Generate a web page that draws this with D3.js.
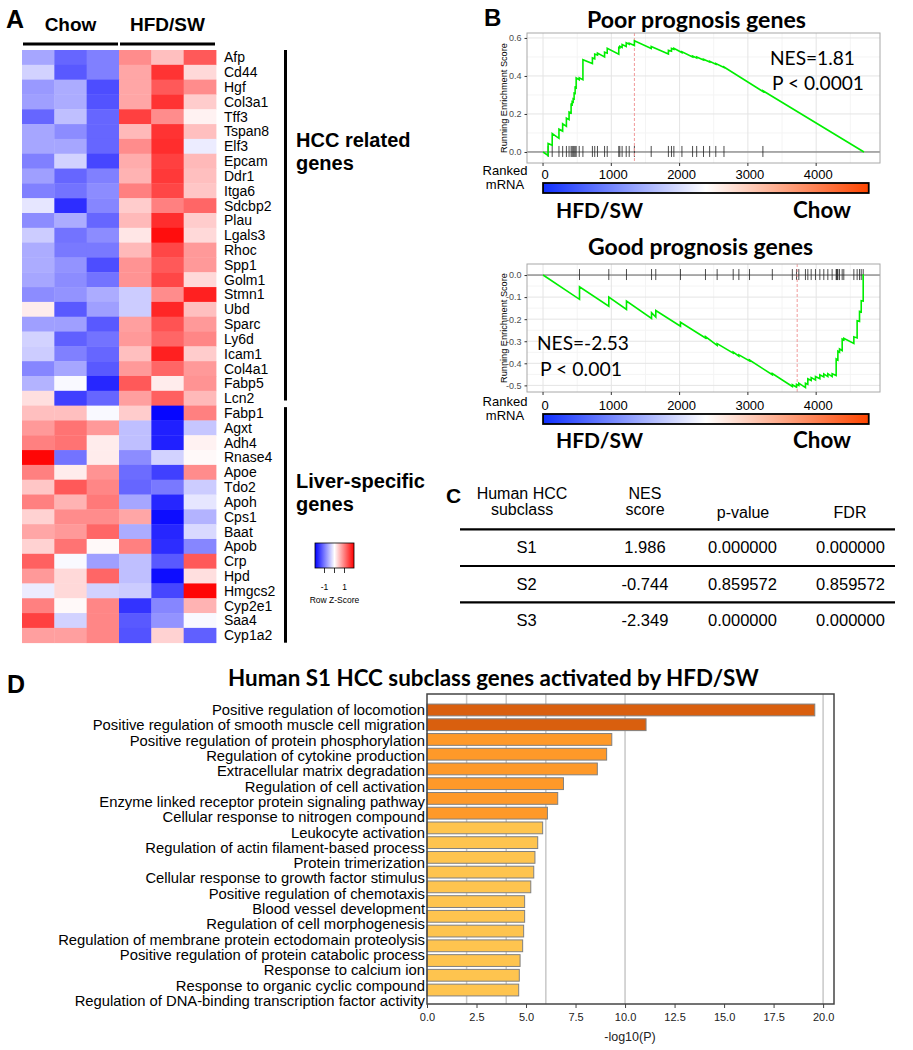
<!DOCTYPE html>
<html><head><meta charset="utf-8">
<script src="https://cdn.jsdelivr.net/npm/d3@7/dist/d3.min.js"></script>
<style>html,body{margin:0;padding:0;background:#fff;}svg{display:block}</style>
</head><body>
<svg id="fig" width="913" height="1050" xmlns="http://www.w3.org/2000/svg"></svg>
<script>
// ================= DATA =================
// Panel A – heatmap
const samples = ["Chow 1","Chow 2","Chow 3","HFD/SW 1","HFD/SW 2","HFD/SW 3"];
const groupNames = ["Chow","HFD/SW"];
const hccGenes = ["Afp","Cd44","Hgf","Col3a1","Tff3","Tspan8","Elf3","Epcam","Ddr1","Itga6","Sdcbp2","Plau","Lgals3","Rhoc","Spp1","Golm1","Stmn1","Ubd","Sparc","Ly6d","Icam1","Col4a1","Fabp5","Lcn2"];
const liverGenes = ["Fabp1","Agxt","Adh4","Rnase4","Apoe","Tdo2","Apoh","Cps1","Baat","Apob","Crp","Hpd","Hmgcs2","Cyp2e1","Saa4","Cyp1a2"];
const hccZ = [
  [-0.7,-1.2,-1.0,0.9,0.5,1.3],
  [-0.35,-1.3,-1.0,0.7,1.6,0.3],
  [-0.8,-0.65,-1.4,0.7,1.3,0.9],
  [-0.75,-0.65,-1.35,0.7,1.6,0.4],
  [-1.2,-0.5,-1.2,1.5,0.9,0.1],
  [-0.7,-0.9,-1.2,0.55,1.6,0.5],
  [-0.7,-0.7,-1.2,0.9,1.65,-0.15],
  [-1.0,-0.35,-1.45,0.65,1.5,0.55],
  [-0.75,-1.2,-1.0,0.6,1.55,0.5],
  [-1.0,-1.1,-0.9,1.0,1.45,0.45],
  [-0.2,-1.65,-0.95,0.4,1.0,1.2],
  [-0.9,-0.65,-1.2,0.55,1.65,0.4],
  [-0.4,-1.1,-0.9,0.2,1.9,0.3],
  [-0.65,-1.05,-1.05,0.55,1.45,0.8],
  [-0.65,-0.85,-1.4,0.85,1.3,0.8],
  [-0.7,-0.9,-1.1,0.85,1.45,0.3],
  [-0.9,-0.85,-0.65,-0.4,0.9,1.75],
  [0.15,-1.3,-0.75,-0.4,1.7,0.5],
  [-0.75,-0.75,-1.3,0.75,1.35,0.8],
  [-0.35,-1.25,-1.1,0.8,1.2,0.95],
  [-0.4,-1.0,-1.2,0.5,1.75,0.4],
  [-0.95,-0.7,-1.3,0.8,1.2,0.8],
  [-0.6,-0.05,-1.7,1.3,0.15,0.85],
  [0.25,-1.5,-1.2,0.75,1.25,0.55]
];
const liverZ = [
  [0.5,0.5,-0.05,0.4,-1.95,1.0],
  [0.8,1.1,0.8,-0.5,-1.75,-0.45],
  [1.0,1.1,0.15,-0.5,-1.75,0.1],
  [1.95,-1.1,0.15,-0.9,-0.35,0.05],
  [1.0,0.15,0.85,-1.15,-1.5,0.9],
  [0.45,1.3,0.95,-1.2,-1.05,-0.4],
  [1.0,0.6,1.05,-0.7,-1.7,-0.2],
  [0.35,0.9,0.9,0.7,-1.9,-0.6],
  [0.7,0.8,1.2,-0.65,-1.7,-0.3],
  [0.35,1.1,0.05,1.0,-1.65,-0.95],
  [1.25,-0.05,-0.75,-0.5,-1.3,1.3],
  [0.8,0.3,1.2,-0.5,-1.9,0.25],
  [-0.15,0.3,-0.35,-0.4,-1.45,1.95],
  [1.0,0.05,0.95,-1.6,-0.95,0.6],
  [1.5,-0.35,0.95,-1.3,-0.85,-0.05],
  [0.75,0.75,0.95,-1.35,0.35,-1.25]
];
const geneGroupLabels = [["HCC related","genes"],["Liver-specific","genes"]];
const zKeyTicks = [-1,0,1];
const zKeyLabels = ["-1","","1"];

// Panel B – GSEA running enrichment
const rankTicks = [0,1000,2000,3000,4000];
const rankMinor = [500,1500,2500,3500,4500];
const poorHits = [74,134,233,287,342,381,411,426,441,455,470,485,530,584,723,757,797,901,940,1109,1124,1158,1218,1262,1338,1584,1836,1881,1916,2034,2190,2250,2350,2440,2530,2650,3220];
const poorCurve = [[0,0],[74,-0.018],[74,0.045],[134,0.035],[134,0.097],[233,0.072],[233,0.12],[287,0.11],[287,0.148],[342,0.135],[342,0.178],[381,0.17],[381,0.21],[411,0.205],[411,0.25],[426,0.248],[426,0.265],[441,0.262],[441,0.28],[455,0.278],[455,0.31],[470,0.308],[470,0.34],[485,0.337],[485,0.39],[530,0.38],[530,0.39],[584,0.38],[584,0.485],[723,0.465],[723,0.495],[757,0.49],[757,0.515],[797,0.51],[797,0.52],[901,0.50],[901,0.525],[940,0.52],[940,0.545],[1109,0.515],[1109,0.55],[1124,0.548],[1124,0.556],[1158,0.55],[1158,0.565],[1218,0.555],[1218,0.575],[1262,0.567],[1262,0.572],[1338,0.56],[1338,0.585],[1584,0.545],[1584,0.555],[1836,0.515],[1836,0.535],[1881,0.53],[1881,0.545],[1916,0.54],[1916,0.545],[2034,0.523],[2034,0.527],[2190,0.50],[2190,0.505],[2250,0.495],[2250,0.5],[2350,0.484],[2350,0.488],[2440,0.473],[2440,0.477],[2530,0.462],[2530,0.465],[2650,0.444],[2650,0.447],[3220,0.318],[3220,0.322],[4700,0]];
const poorPeak = 1338;
const poorYTicks = [0,0.2,0.4,0.6];
const poorYMinor = [0.1,0.3,0.5];
const poorStats = ["NES=1.81","P < 0.0001"];

const goodHits = [534,963,1222,1589,1651,2013,2379,2550,2785,2868,3024,3358,3651,3712,3746,3843,3878,3927,3990,4054,4112,4171,4234,4293,4300,4310,4318,4342,4381,4405,4552,4600,4635,4660,4689];
const goodCurve = [[0,0],[534,-0.11],[534,-0.053],[963,-0.141],[963,-0.10],[1222,-0.156],[1222,-0.118],[1589,-0.197],[1589,-0.171],[1651,-0.19],[1651,-0.161],[2013,-0.232],[2013,-0.214],[2379,-0.285],[2379,-0.279],[2550,-0.319],[2550,-0.311],[2785,-0.354],[2785,-0.349],[2868,-0.368],[2868,-0.362],[3024,-0.389],[3024,-0.385],[3358,-0.452],[3358,-0.446],[3651,-0.505],[3651,-0.497],[3712,-0.508],[3712,-0.495],[3746,-0.50],[3746,-0.49],[3843,-0.51],[3843,-0.49],[3878,-0.495],[3878,-0.47],[3927,-0.478],[3927,-0.465],[3990,-0.475],[3990,-0.46],[4054,-0.47],[4054,-0.452],[4112,-0.462],[4112,-0.448],[4171,-0.46],[4171,-0.447],[4234,-0.46],[4234,-0.447],[4293,-0.455],[4293,-0.38],[4318,-0.385],[4318,-0.345],[4342,-0.35],[4342,-0.335],[4381,-0.342],[4381,-0.29],[4405,-0.293],[4405,-0.287],[4552,-0.31],[4552,-0.28],[4600,-0.285],[4600,-0.207],[4635,-0.21],[4635,-0.165],[4660,-0.168],[4660,-0.116],[4689,-0.118],[4689,0],[4700,0]];
const goodPeak = 3722;
const goodYTicks = [0,-0.1,-0.2,-0.3,-0.4,-0.5];
const goodYMinor = [-0.05,-0.15,-0.25,-0.35,-0.45];
const goodStats = ["NES=-2.53","P < 0.001"];
const rankBarEnds = ["HFD/SW","Chow"];

// Panel C – table
const tableHeaders = [["Human HCC","subclass"],["NES","score"],["p-value"],["FDR"]];
const tableSubclass = ["S1","S2","S3"];
const tableNES = ["1.986","-0.744","-2.349"];
const tablePValue = ["0.000000","0.859572","0.000000"];
const tableFDR = ["0.000000","0.859572","0.000000"];

// Panel D – enrichment bars
const goTerms = ["Positive regulation of locomotion","Positive regulation of smooth muscle cell migration","Positive regulation of protein phosphorylation","Regulation of cytokine production","Extracellular matrix degradation","Regulation of cell activation","Enzyme linked receptor protein signaling pathway","Cellular response to nitrogen compound","Leukocyte activation","Regulation of actin filament-based process","Protein trimerization","Cellular response to growth factor stimulus","Positive regulation of chemotaxis","Blood vessel development","Regulation of cell morphogenesis","Regulation of membrane protein ectodomain proteolysis","Positive regulation of protein catabolic process","Response to calcium ion","Response to organic cyclic compound","Regulation of DNA-binding transcription factor activity"];
const goLogP = [19.58,11.06,9.33,9.07,8.6,6.89,6.6,6.08,5.84,5.59,5.45,5.39,5.24,4.93,4.93,4.88,4.83,4.7,4.66,4.63];
const goTier = [2,2,1,1,1,1,1,1,0,0,0,0,0,0,0,0,0,0,0,0];
const goTicks = [0,2.5,5,7.5,10,12.5,15,17.5,20];
const goGrid = [2,4,6,10,20];

// ================= DRAWING =================
const svg = d3.select("#fig");
const ARIAL = "'Liberation Sans', Arial, Helvetica, sans-serif";
const CAL = "Lato, 'Open Sans', sans-serif";

function fitWidth(sel, w) {
  const cur = sel.node().getComputedTextLength();
  if (cur > 0) sel.attr("font-size", (parseFloat(sel.attr("font-size")) * w / cur).toFixed(2));
  return sel;
}
function txt(g, x, y, s, size, opts = {}) {
  return g.append("text").attr("x", x).attr("y", y).text(s)
    .attr("font-family", opts.family || ARIAL).attr("font-size", size)
    .attr("font-weight", opts.weight || "normal").attr("text-anchor", opts.anchor || "start")
    .attr("fill", opts.fill || "#000");
}

// ---------- Panel A ----------
(function () {
  const g = svg.append("g");
  const genes = hccGenes.concat(liverGenes);
  const z = hccZ.concat(liverZ);
  const x = d3.scaleBand().domain(samples).range([22, 216]);
  const y = d3.scaleBand().domain(genes).range([50, 642.7]);
  const color = d3.scaleLinear().domain([-2, 0, 2]).range(["#0000ff", "#ffffff", "#ff0000"]).clamp(true);
  const cells = [];
  genes.forEach((gn, i) => samples.forEach((s, j) => cells.push({ gn, s, v: z[i][j] })));
  g.selectAll("rect.cell").data(cells).join("rect").attr("class", "cell")
    .attr("x", d => x(d.s)).attr("y", d => y(d.gn))
    .attr("width", x.bandwidth() + 0.4).attr("height", y.bandwidth() + 0.4)
    .attr("fill", d => color(d.v));
  g.selectAll("text.gene").data(genes).join("text").attr("class", "gene")
    .attr("x", 224).attr("y", d => y(d) + y.bandwidth() / 2 + 5)
    .attr("font-family", ARIAL).attr("font-size", 14).text(d => d);

  // group headers
  [[0, 2], [3, 5]].forEach((r, k) => {
    const x0 = x(samples[r[0]]) + 1, x1 = x(samples[r[1]]) + x.bandwidth() - 1;
    g.append("line").attr("x1", x0).attr("x2", x1).attr("y1", 44).attr("y2", 44)
      .attr("stroke", "#000").attr("stroke-width", 3);
    txt(g, (x0 + x1) / 2, 31, groupNames[k], 19, { weight: "bold", anchor: "middle" });
  });
  txt(g, 6, 28, "A", 25, { weight: "bold" });

  // brackets
  const spans = [[y(hccGenes[0]), y(hccGenes[hccGenes.length - 1]) + y.bandwidth() - 5],
                 [y(liverGenes[0]) + 1.5, y(liverGenes[liverGenes.length - 1]) + y.bandwidth()]];
  const labelBase = [147, 488];
  spans.forEach((s, k) => {
    g.append("line").attr("x1", 285.5).attr("x2", 285.5).attr("y1", s[0]).attr("y2", s[1])
      .attr("stroke", "#000").attr("stroke-width", 3);
    txt(g, 296, labelBase[k], geneGroupLabels[k][0], 20, { weight: "bold" });
    txt(g, 296, labelBase[k] + 23, geneGroupLabels[k][1], 20, { weight: "bold" });
  });

  // colour key
  const kx = d3.scaleLinear().domain([-1.95, 1.95]).range([315, 354]);
  const defs = svg.append("defs");
  const lg = defs.append("linearGradient").attr("id", "zkey");
  [[0, "#0000ff"], [0.5, "#ffffff"], [1, "#ff0000"]].forEach(s =>
    lg.append("stop").attr("offset", s[0]).attr("stop-color", s[1]));
  g.append("rect").attr("x", kx.range()[0]).attr("y", 543).attr("width", kx.range()[1] - kx.range()[0])
    .attr("height", 25).attr("fill", "url(#zkey)").attr("stroke", "#000").attr("stroke-width", 0.8);
  g.selectAll("line.kt").data(zKeyTicks).join("line").attr("class", "kt")
    .attr("x1", d => kx(d)).attr("x2", d => kx(d)).attr("y1", 568).attr("y2", 573)
    .attr("stroke", "#000").attr("stroke-width", 0.8);
  g.selectAll("text.kl").data(zKeyTicks).join("text").attr("class", "kl")
    .attr("x", d => kx(d)).attr("y", 590).attr("text-anchor", "middle")
    .attr("font-family", ARIAL).attr("font-size", 8.5).text((d, i) => zKeyLabels[i]);
  txt(g, kx(0), 603, "Row Z-Score", 8.5, { anchor: "middle" });
})();

// ---------- Panel B ----------
const rgrad = svg.select("defs").append("linearGradient").attr("id", "rankbar");
[[0, "#0f2fff"], [0.5, "#ffffff"], [1, "#ff4500"]].forEach(s =>
  rgrad.append("stop").attr("offset", s[0]).attr("stop-color", s[1]));

function drawGsea(p) {
  const g = svg.append("g");
  const L = 527, R = 880;
  const x = d3.scaleLinear().domain([-235, 4935]).range([L, R]);
  const y = d3.scaleLinear().domain(p.yDomain).range([p.bottom, p.top]);
  // grid
  g.selectAll("line.vmin").data(rankMinor).join("line").attr("x1", d => x(d)).attr("x2", d => x(d))
    .attr("y1", p.top).attr("y2", p.bottom).attr("stroke", "#f4f4f4");
  g.selectAll("line.hmin").data(p.yMinor).join("line").attr("x1", L).attr("x2", R)
    .attr("y1", d => y(d)).attr("y2", d => y(d)).attr("stroke", "#f4f4f4");
  g.selectAll("line.vmaj").data(rankTicks).join("line").attr("x1", d => x(d)).attr("x2", d => x(d))
    .attr("y1", p.top).attr("y2", p.bottom).attr("stroke", "#e4e4e4");
  g.selectAll("line.hmaj").data(p.yTicks).join("line").attr("x1", L).attr("x2", R)
    .attr("y1", d => y(d)).attr("y2", d => y(d)).attr("stroke", "#e4e4e4");
  // zero line
  g.append("line").attr("x1", L).attr("x2", R).attr("y1", y(0)).attr("y2", y(0))
    .attr("stroke", "#666").attr("stroke-width", 1);
  // hits
  g.selectAll("line.hit").data(p.hits).join("line").attr("x1", d => x(d)).attr("x2", d => x(d))
    .attr("y1", y(0) - 6).attr("y2", y(0) + 5).attr("stroke", "#222").attr("stroke-opacity", 0.8);
  // peak
  g.append("line").attr("x1", x(p.peak)).attr("x2", x(p.peak)).attr("y1", p.top).attr("y2", p.bottom)
    .attr("stroke", "#f19a9a").attr("stroke-dasharray", "3,2").attr("stroke-width", 1);
  // curve
  g.append("path").datum(p.curve)
    .attr("d", d3.line().x(d => x(d[0])).y(d => y(d[1])))
    .attr("fill", "none").attr("stroke", "#00ee00").attr("stroke-width", 1.6);
  // frame
  g.append("rect").attr("x", L).attr("y", p.top).attr("width", R - L).attr("height", p.bottom - p.top)
    .attr("fill", "none").attr("stroke", "#a8a8a8");
  // y axis
  const ya = g.append("g").attr("transform", `translate(${L},0)`)
    .call(d3.axisLeft(y).tickValues(p.yTicks).tickSize(2.5).tickFormat(d => d.toFixed(1)));
  ya.select(".domain").remove();
  ya.selectAll("line").attr("stroke", "#333");
  ya.selectAll("text").attr("font-family", ARIAL).attr("font-size", 9).attr("fill", "#4d4d4d");
  g.append("text").attr("transform", `translate(507,${(p.top + p.bottom) / 2}) rotate(-90)`)
    .attr("text-anchor", "middle").attr("font-family", ARIAL).attr("font-size", 9.2).text("Running Enrichment Score");
  // x ticks
  g.selectAll("line.xt").data(rankTicks).join("line").attr("x1", d => x(d)).attr("x2", d => x(d))
    .attr("y1", p.bottom).attr("y2", p.bottom + 3).attr("stroke", "#333");
  g.selectAll("text.xl").data(rankTicks).join("text").attr("x", d => x(d) + 2).attr("y", p.tickY)
    .attr("text-anchor", "middle").attr("font-family", ARIAL).attr("font-size", 13).text(d => d);
  txt(g, 505, p.tickY - 4, "Ranked", 13, { anchor: "middle" });
  txt(g, 505, p.tickY + 10, "mRNA", 13, { anchor: "middle" });
  // rank colour bar
  g.append("rect").attr("x", x(0)).attr("y", p.barY).attr("width", x(4770) - x(0)).attr("height", 10)
    .attr("fill", "url(#rankbar)").attr("stroke", "#000").attr("stroke-width", 1.8);
  fitWidth(txt(g, 556, p.endY, rankBarEnds[0], 22, { family: CAL, weight: "bold" }), 87);
  fitWidth(txt(g, 793, p.endY, rankBarEnds[1], 22, { family: CAL, weight: "bold" }), 58);
  // title
  fitWidth(txt(g, p.titleX, p.titleY, p.title, 21, { family: CAL, weight: "bold" }), p.titleW);
  // stats
  fitWidth(txt(g, p.stat[0], p.stat[1], p.stats[0], 20, { family: CAL }), p.stat[2]);
  fitWidth(txt(g, p.stat[3], p.stat[4], p.stats[1], 20, { family: CAL }), p.stat[5]);
}

drawGsea({ top: 33, bottom: 163, yDomain: [-0.058, 0.626], yTicks: poorYTicks, yMinor: poorYMinor,
  hits: poorHits, curve: poorCurve, peak: poorPeak, tickY: 179, barY: 183, endY: 218,
  title: "Poor prognosis genes", titleX: 587, titleY: 28, titleW: 219,
  stats: poorStats, stat: [770, 65, 85, 772, 90, 92] });
drawGsea({ top: 264, bottom: 392, yDomain: [-0.53, 0.05], yTicks: goodYTicks, yMinor: goodYMinor,
  hits: goodHits, curve: goodCurve, peak: goodPeak, tickY: 410, barY: 414, endY: 448,
  title: "Good prognosis genes", titleX: 588, titleY: 255, titleW: 225,
  stats: goodStats, stat: [537, 350, 92, 540, 376, 82] });
txt(svg, 484, 26, "B", 24, { weight: "bold" });

// ---------- Panel C ----------
(function () {
  const g = svg.append("g");
  txt(g, 446, 503, "C", 21, { weight: "bold" });
  const cx = [522, 645, 743, 850];
  tableHeaders.forEach((h, i) => {
    if (h.length === 2) {
      txt(g, cx[i], 499, h[0], 16, { anchor: "middle" });
      txt(g, cx[i], 515, h[1], 16, { anchor: "middle" });
    } else {
      txt(g, cx[i], 518, h[0], 16, { anchor: "middle" });
    }
  });
  const rowY = d3.scalePoint().domain(tableSubclass).range([553, 626]);
  [529.3, 566, 602.3].forEach(yy =>
    g.append("line").attr("x1", 460).attr("x2", 895).attr("y1", yy).attr("y2", yy)
      .attr("stroke", "#000").attr("stroke-width", 2.2));
  const cols = [tableSubclass, tableNES, tablePValue, tableFDR];
  const vx = [526.7, 645, 742.5, 850.5];
  cols.forEach((col, i) => col.forEach((v, r) =>
    txt(g, vx[i], rowY(tableSubclass[r]), v, 16.5, { anchor: "middle" })));
})();

// ---------- Panel D ----------
(function () {
  const g = svg.append("g");
  const L = 427, R = 834, T = 694, B = 1004;
  const x = d3.scaleLinear().domain([0, 20.55]).range([L, R]);
  const y = d3.scaleBand().domain(goTerms).range([702.6, 997.4]).paddingInner(0.2).paddingOuter(0.1);
  const ly = d3.scalePoint().domain(goTerms).range([710, 1001]);
  const tierColor = ["#fec44f", "#fe9929", "#d95f0e"];
  txt(g, 7, 693, "D", 25, { weight: "bold" });
  fitWidth(txt(g, 228, 686, "Human S1 HCC subclass genes activated by HFD/SW", 22, { family: CAL, weight: "bold" }), 531);
  g.selectAll("line.grid").data(goGrid).join("line").attr("x1", d => x(d)).attr("x2", d => x(d))
    .attr("y1", T).attr("y2", B).attr("stroke", "#c8c8c8").attr("stroke-width", 1.5);
  g.selectAll("rect.bar").data(goTerms).join("rect").attr("class", "bar")
    .attr("x", x(0)).attr("y", d => y(d))
    .attr("width", (d, i) => x(goLogP[i]) - x(0)).attr("height", y.bandwidth())
    .attr("fill", (d, i) => tierColor[goTier[i]]).attr("stroke", "#808080").attr("stroke-width", 1);
  g.append("rect").attr("x", L).attr("y", T).attr("width", R - L).attr("height", B - T)
    .attr("fill", "none").attr("stroke", "#444").attr("stroke-width", 1.5);
  g.selectAll("text.term").data(goTerms).join("text").attr("class", "term")
    .attr("x", 425).attr("y", d => ly(d) + 5).attr("text-anchor", "end")
    .attr("font-family", ARIAL).attr("font-size", 14.8).text(d => d);
  const xa = g.append("g").attr("transform", `translate(0,${B})`)
    .call(d3.axisBottom(x).tickValues(goTicks).tickSize(4).tickPadding(5).tickFormat(d => d.toFixed(1)));
  xa.select(".domain").remove();
  xa.selectAll("line").attr("stroke", "#444");
  xa.selectAll("text").attr("font-family", ARIAL).attr("font-size", 11).attr("fill", "#222");
  txt(g, 630, 1041, "-log10(P)", 12.5, { anchor: "middle", fill: "#222" });
})();
</script>
</body></html>
